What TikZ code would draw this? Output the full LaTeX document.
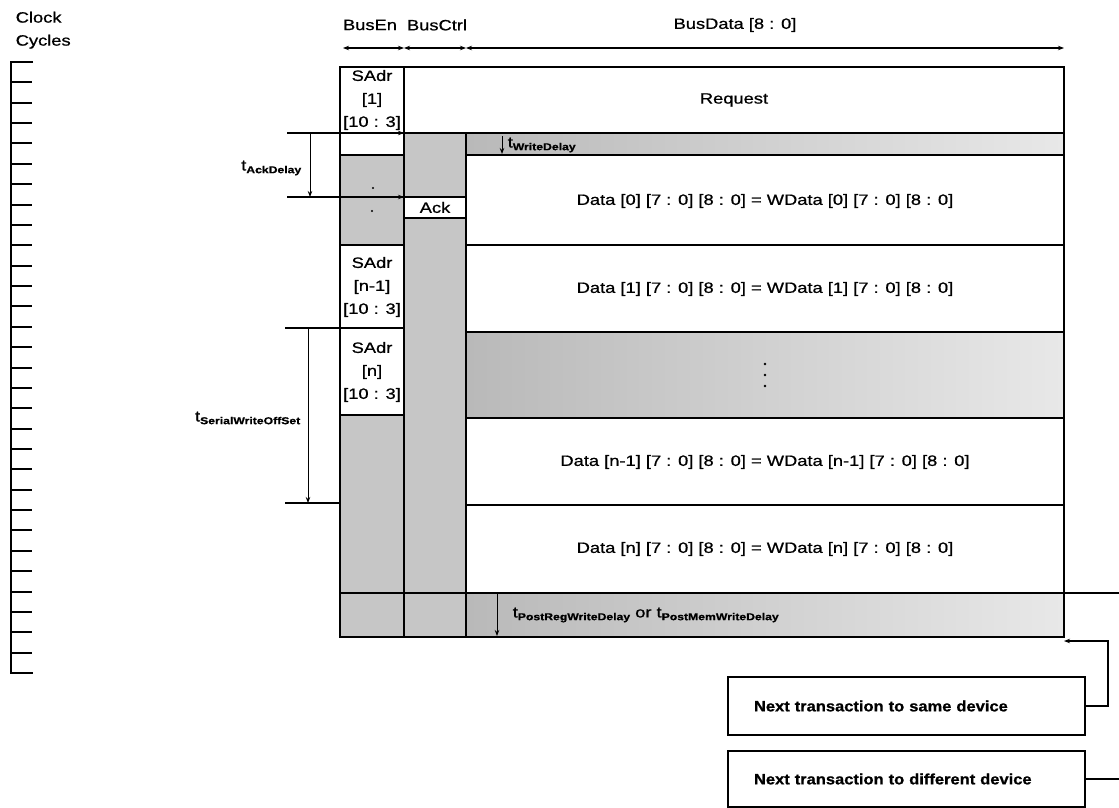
\documentclass[tikz,border=0pt]{standalone}
\usepackage{fontspec}
\setmainfont{Liberation Sans}[FakeStretch=1.22,FakeBold=0.8]
\newfontfamily\boxfont{Liberation Sans}[FakeStretch=1.1,FakeBold=0.8]
\usetikzlibrary{arrows.meta}
\newcommand\tsub[1]{t\raisebox{-0.35ex}{\fontsize{10}{10}\selectfont\bfseries #1}}
\begin{document}
\begin{tikzpicture}[x=1pt,y=-1pt,
  line width=1.5pt,
  txt/.style={font=\fontsize{15}{23}\selectfont, inner sep=0pt, align=center},
  frame/.style={line width=2pt},
  stip/.style={fill=gray!45},
  fade/.style={left color=gray!55, right color=gray!18},
  tip/.style={-{Stealth[length=6pt,width=4.5pt]}},
  rtip/.style={{Stealth[length=6pt,width=4.5pt]}-},
  dtip/.style={{Stealth[length=6pt,width=4.5pt]}-{Stealth[length=6pt,width=4.5pt]}},
  dimline/.style={line width=0.9pt},
  tbox/.style={draw, line width=2pt, minimum width=357pt, text width=305pt, align=left, inner sep=0pt, font=\boxfont\fontsize{15}{17}\selectfont\bfseries}
]
\useasboundingbox (0,0) rectangle (1119,808);

% clock cycles scale
\node[txt, anchor=north west, align=left] (clk) at (15,11) {Clock\\Cycles};
\draw[line width=2.5pt] (33,62) -- (11,62) -- (11,673) -- (33,673);
\foreach \i in {1,...,29} \draw[line width=2pt] (11,{62+\i*20.367}) -- (32,{62+\i*20.367});

% headers
\node[txt] (hen) at (370,25) {BusEn};
\node[txt] (hctl) at (437,25) {BusCtrl};
\node[txt] (hdat) at (735,25) {BusData [8 : 0]};
\coordinate (a0) at (343,48);
\coordinate (a1) at (404,48);
\coordinate (a2) at (466,48);
\coordinate (a3) at (1064,48);
\draw[dtip] (a0) -- (a1);
\draw[dtip] (a1) -- (a2);
\draw[dtip] (a2) -- (a3);

% shaded areas
\fill[stip] (340,155) rectangle (404,245);
\fill[stip] (340,415) rectangle (404,593);
\fill[stip] (404,133) rectangle (466,197);
\fill[stip] (404,218) rectangle (466,593);
\shade[fade] (466,133) rectangle (1064,155);
\shade[fade] (466,332) rectangle (1064,418);
\fill[stip] (340,593) rectangle (466,637);
\shade[fade] (466,593) rectangle (1064,637);
\fill (373,188) circle (1.2pt);
\fill (372,211) circle (1.2pt);

% grid lines
\draw[frame] (340,67) rectangle (1064,637);
\draw (404,67) -- (404,637);
\draw (466,133) -- (466,637);
\draw (340,133) -- (1064,133);
\draw (340,155) -- (404,155);
\draw (466,155) -- (1064,155);
\draw (340,197) -- (404,197);
\draw (340,245) -- (404,245);
\draw (466,245) -- (1064,245);
\draw (340,328) -- (404,328);
\draw (466,332) -- (1064,332);
\draw (340,415) -- (404,415);
\draw (466,418) -- (1064,418);
\draw (466,505) -- (1064,505);
\draw (340,593) -- (1064,593);
\node[draw, fill=white, line width=1.5pt, minimum width=62pt, minimum height=21pt, txt] (ack) at (435,207.5) {Ack};

% cell texts
\node[txt] (sa1) at (372,100) {SAdr\\{[1]}\\{[10 : 3]}};
\node[txt] (san1) at (372,287) {SAdr\\{[n-1]}\\{[10 : 3]}};
\node[txt] (san) at (372,372) {SAdr\\{[n]}\\{[10 : 3]}};
\node[txt] (req) at (734,100) {Request};
\node[txt] (d0) at (765,201) {Data [0] [7 : 0] [8 : 0] = WData [0] [7 : 0] [8 : 0]};
\node[txt] (d1) at (765,289) {Data [1] [7 : 0] [8 : 0] = WData [1] [7 : 0] [8 : 0]};
\node[txt] (dn1) at (765,462) {Data [n-1] [7 : 0] [8 : 0] = WData [n-1] [7 : 0] [8 : 0]};
\node[txt] (dn) at (765,549) {Data [n] [7 : 0] [8 : 0] = WData [n] [7 : 0] [8 : 0]};
\foreach \yy in {364,375,386} \fill (765,\yy) circle (1.3pt);

% write delay
\draw[dimline, tip] (502,136) -- (502,154);
\node[txt, anchor=west] (wd) at (507,145) {\tsub{WriteDelay}};

% post write delay
\draw[dimline, tip] (497,594) -- (497,636);
\node[txt, anchor=west] (pwd) at (512,615) {\tsub{PostRegWriteDelay} or \tsub{PostMemWriteDelay}};

% ack delay
\coordinate (ak1) at (287,133);
\coordinate (ak2) at (287,197);
\coordinate (ak1e) at (404,133);
\coordinate (ak2e) at (404,197);
\draw[tip] (ak1) -- (ak1e);
\draw[tip] (ak2) -- (ak2e);
\draw[dimline, tip] (310,133) -- (310,197);
\node[txt, anchor=east] (akl) at (302,168) {\tsub{AckDelay}};

% serial write offset
\coordinate (sw1) at (285,328);
\coordinate (sw2) at (285,503);
\coordinate (sw1e) at (340,328);
\coordinate (sw2e) at (340,503);
\draw (sw1) -- (sw1e);
\draw (sw2) -- (sw2e);
\draw[dimline, tip] (308,328) -- (308,503);
\node[txt, anchor=east] (swl) at (301,418) {\tsub{SerialWriteOffSet}};

% next transaction boxes
\node[tbox, minimum height=58pt] (same) at (906.5,706) {Next transaction to same device};
\node[tbox, minimum height=56pt] (diff) at (906.5,779) {Next transaction to different device};
\coordinate (pr) at (1064,593);
\coordinate (prx) at (1119,593);
\draw (pr) -- (prx);
\coordinate (bb) at (1064,641);
\draw[rtip] (bb) -- (1108,641) |- (same.east);
\coordinate (dx) at (1119,779);
\draw (diff.east) -- (dx);
\end{tikzpicture}
\end{document}
